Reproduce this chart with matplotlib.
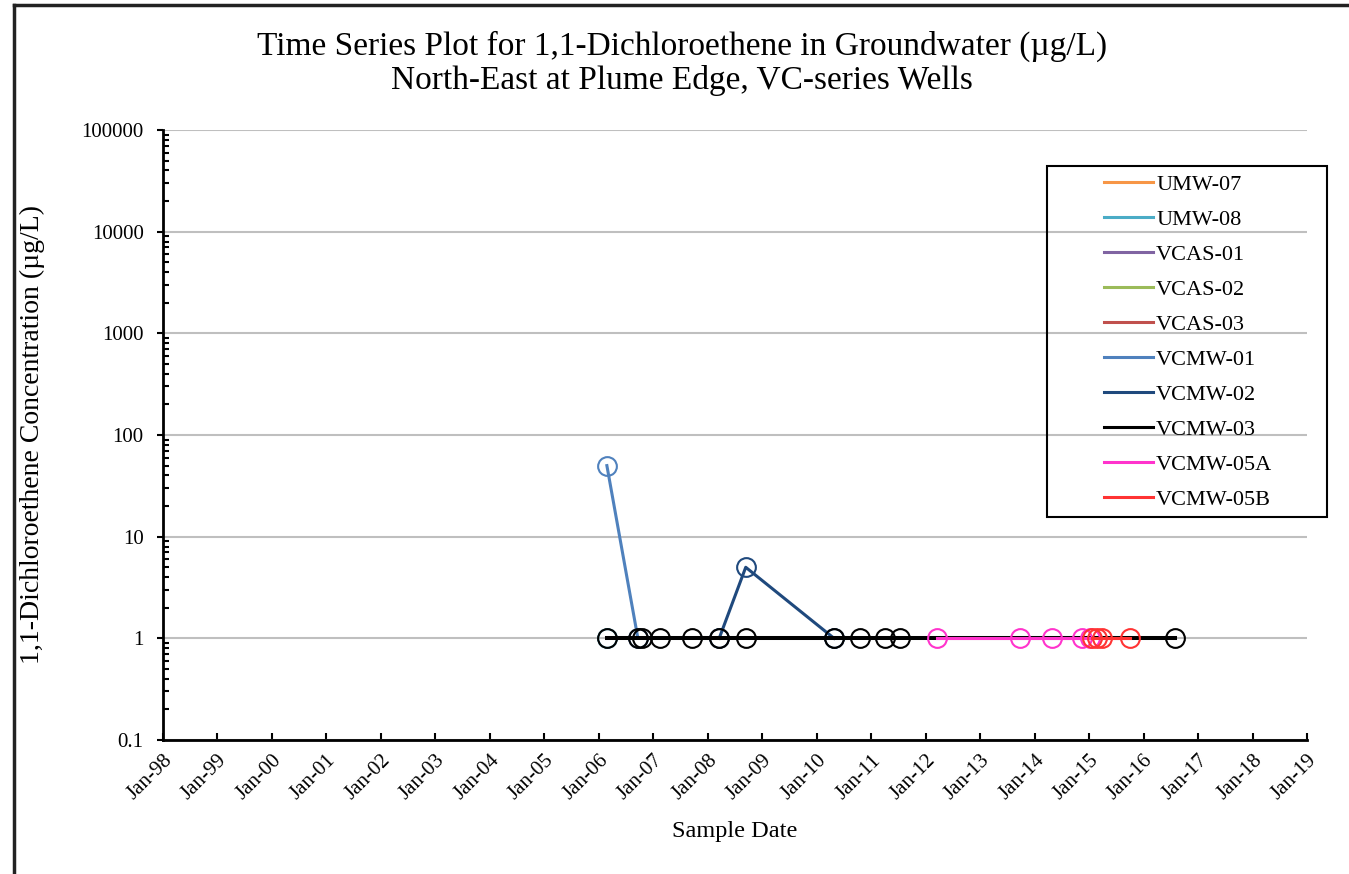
import matplotlib
matplotlib.use('Agg')
import matplotlib.pyplot as plt
import matplotlib.dates as mdates
from matplotlib.ticker import LogLocator, FixedLocator, NullFormatter
from matplotlib.lines import Line2D
from matplotlib.patches import Rectangle
import pandas as pd

plt.rcParams['font.family'] = ['Liberation Serif', 'DejaVu Serif']

# wells in legend order
wells = ['UMW-07', 'UMW-08', 'VCAS-01', 'VCAS-02', 'VCAS-03',
         'VCMW-01', 'VCMW-02', 'VCMW-03', 'VCMW-05A', 'VCMW-05B']
colors = ['#F79646', '#4BACC6', '#8064A2', '#9BBB59', '#C0504D',
          '#4F81BD', '#1F497D', '#000000', '#FF33CC', '#FF3333']

# sample dates and 1,1-DCE results (ug/L) per well
umw07_dates, umw07_vals = [], []
umw08_dates, umw08_vals = ['2006-02-24'], [1]
vcas01_dates, vcas01_vals = [], []
vcas02_dates, vcas02_vals = [], []
vcas03_dates, vcas03_vals = [], []
vcmw01_dates = ['2006-02-24', '2006-09-20']
vcmw01_vals = [50, 1]
vcmw02_dates = ['2008-03-18', '2008-09-12', '2010-04-27']
vcmw02_vals = [1, 5, 1]
vcmw03_dates = ['2006-02-24', '2006-09-20', '2006-10-15', '2007-02-15',
                '2007-09-17', '2008-03-18', '2008-09-12', '2010-04-27',
                '2010-10-15', '2011-04-01', '2011-07-12', '2016-07-29']
vcmw03_vals = [1, 1, 1, 1, 1, 1, 1, 1, 1, 1, 1, 1]
vcmw05a_dates = ['2012-03-17', '2013-09-24', '2014-04-27', '2014-11-13', '2015-01-06']
vcmw05a_vals = [1, 1, 1, 1, 1]
vcmw05b_dates = ['2015-01-19', '2015-02-22', '2015-03-27', '2015-10-01']
vcmw05b_vals = [1, 1, 1, 1]

series = [(umw07_dates, umw07_vals), (umw08_dates, umw08_vals),
          (vcas01_dates, vcas01_vals), (vcas02_dates, vcas02_vals),
          (vcas03_dates, vcas03_vals), (vcmw01_dates, vcmw01_vals),
          (vcmw02_dates, vcmw02_vals), (vcmw03_dates, vcmw03_vals),
          (vcmw05a_dates, vcmw05a_vals), (vcmw05b_dates, vcmw05b_vals)]

tick_years = list(range(1998, 2020))
ytick_vals = [0.1, 1, 10, 100, 1000, 10000, 100000]
ytick_labels = ['0.1', '1', '10', '100', '1000', '10000', '100000']

W, H = 1349, 874
fig = plt.figure(figsize=(W / 100, H / 100), dpi=100)
ax = fig.add_axes([163 / W, 1 - 740 / H, (1307 - 163) / W, (740 - 130) / H])

for well, color, (dates, vals) in zip(wells, colors, series):
    d = pd.to_datetime(dates)
    lw = 2.9 if well == 'VCMW-03' else 2.2
    ax.plot(d, vals, color=color, lw=lw, marker='o', ms=13.5,
            mfc='none', mec=color, mew=1.5, zorder=3)

ax.set_yscale('log')
ax.set_ylim(0.1, 100000)
ax.set_xlim(pd.Timestamp('1998-01-01'), pd.Timestamp('2019-01-01'))

ax.xaxis.set_major_locator(FixedLocator([mdates.date2num(pd.Timestamp(f'{y}-01-01')) for y in tick_years]))
ax.xaxis.set_major_formatter(mdates.DateFormatter('%b-%y'))
ax.yaxis.set_minor_locator(LogLocator(base=10, subs=range(2, 10), numticks=20))
ax.yaxis.set_minor_formatter(NullFormatter())
ax.set_yticks(ytick_vals)
ax.set_yticklabels(ytick_labels)

ax.tick_params(axis='x', direction='in', length=5, width=1.5, labelsize=15, pad=8)
ax.tick_params(axis='y', which='major', direction='out', length=4, width=1.5, labelsize=15, pad=10)
ax.tick_params(axis='y', which='minor', direction='in', length=4, width=1.5)
for lab in ax.get_xticklabels():
    lab.set_rotation(45)
    lab.set_ha('right')
    lab.set_va('top')
    lab.set_rotation_mode('anchor')

ax.grid(True, axis='y', which='major', color='#BFBFBF', lw=1.5, zorder=0)
for side in ['top', 'right']:
    ax.spines[side].set_visible(False)
for side in ['left', 'bottom']:
    ax.spines[side].set_linewidth(2)

# axis titles
fig.text(735 / W, 1 - 832 / H, 'Sample Date', ha='center', va='center', fontsize=17.5)
fig.text(32 / W, 1 - 435 / H, '1,1-Dichloroethene Concentration (µg/L)',
         ha='center', va='center', rotation=90, fontsize=20)

fig.text(682 / W, 1 - 46 / H, 'Time Series Plot for 1,1-Dichloroethene in Groundwater (µg/L)',
         ha='center', va='center', fontsize=24)
fig.text(682 / W, 1 - 81 / H, 'North-East at Plume Edge, VC-series Wells',
         ha='center', va='center', fontsize=24)

# legend: entries placed inside a separate box
handles = [Line2D([0], [0], color=c, lw=2.2) for c in colors]
leg = ax.legend(handles, wells, loc='upper left',
                bbox_to_anchor=(1104 / W, 1 - 174 / H),
                bbox_transform=fig.transFigure, fontsize=16, frameon=False,
                handlelength=2.2, labelspacing=0.65, borderpad=0.0,
                handletextpad=0.15, borderaxespad=0)
fig.add_artist(Rectangle((1047 / W, 1 - 517 / H), 280 / W, 351 / H, fill=False,
                         edgecolor='black', lw=1.5, transform=fig.transFigure))

# outer frame lines along the top and left edge
fig.add_artist(Line2D([14 / W, 14 / W], [0, 1 - 5 / H], color='#222222', lw=2.5,
                      transform=fig.transFigure))
fig.add_artist(Line2D([14 / W, 1], [1 - 5 / H, 1 - 5 / H], color='#222222', lw=2.5,
                      transform=fig.transFigure))

fig.savefig('out.png', dpi=100)
